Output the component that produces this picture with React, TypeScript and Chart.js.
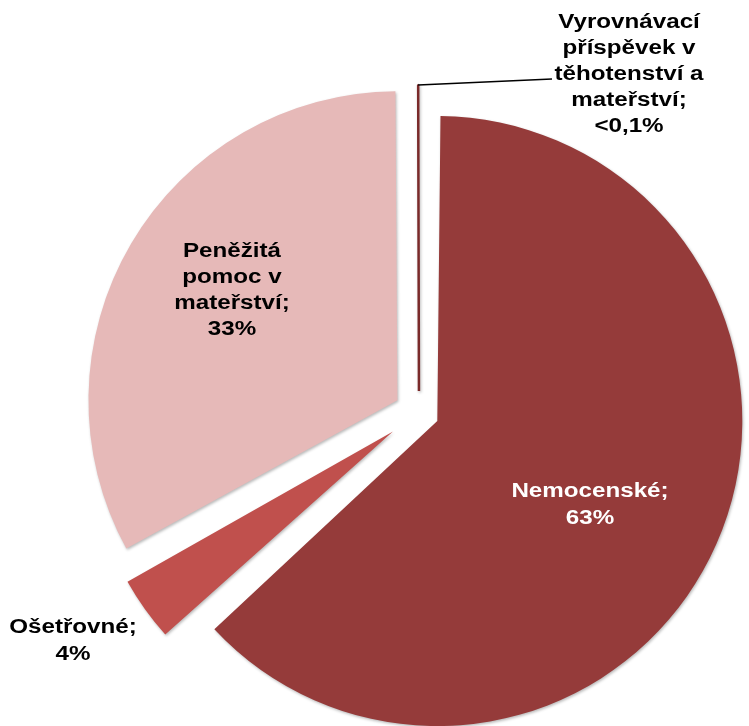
import React, { useEffect, useRef } from "react";
import { Chart, registerables } from "chart.js";

Chart.register(...registerables);

// ---- data ----
const categories = [
  "Nemocenské",
  "Ošetřovné",
  "Peněžitá pomoc v mateřství",
  "Vyrovnávací příspěvek v těhotenství a mateřství",
];
const shares = [63.2, 3.8, 32.9, 0.08];
const labelTexts = ["63%", "4%", "33%", "<0,1%"];

// ---- styles ----
const colors = ["#953B3A", "#C0504D", "#E6B9B8", "#7A2A2A"];
const explode = [20, 32, 25, 22]; // translation in px
const sliceRadius = [305, 305, 309, 306];

const FONT = "bold 19.5px 'Liberation Sans', Arial, sans-serif";
const SX = 1.24;

function drawBlock(ctx: CanvasRenderingContext2D, lines: string[], cx: number, y0: number, lh: number, color: string) {
  ctx.save();
  ctx.font = FONT;
  ctx.fillStyle = color;
  ctx.textAlign = "center";
  ctx.textBaseline = "alphabetic";
  lines.forEach((l, i) => {
    ctx.save();
    ctx.translate(cx, y0 + i * lh);
    ctx.scale(SX, 1);
    ctx.fillText(l, 0, 0);
    ctx.restore();
  });
  ctx.restore();
}

const radiusFix = {
  id: "radiusFix",
  afterDatasetsUpdate(chart: any) {
    const meta = chart.getDatasetMeta(0);
    meta.data.forEach((arc: any, i: number) => {
      const t = explode[i];
      const fix = 1 - Math.sin(Math.min(Math.PI, arc.circumference || 0));
      arc.outerRadius = sliceRadius[i] - t * fix;
    });
  },
};

const shadow = {
  id: "shadow",
  beforeDatasetsDraw(chart: any) {
    const ctx = chart.ctx;
    ctx.save();
    ctx.shadowColor = "rgba(0,0,0,0.28)";
    ctx.shadowBlur = 3;
    ctx.shadowOffsetX = 1;
    ctx.shadowOffsetY = 1.5;
  },
  afterDatasetsDraw(chart: any) {
    chart.ctx.restore();
  },
};

const labels = {
  id: "labelsDraw",
  afterDraw(chart: any) {
    const ctx = chart.ctx as CanvasRenderingContext2D;
    const meta = chart.getDatasetMeta(0);
    const tiny = meta.data[3];
    const mid = (tiny.startAngle + tiny.endAngle) / 2;
    const r = sliceRadius[3];
    const tipX = tiny.x + Math.cos(mid) * (explode[3] + r);
    const tipY = tiny.y + Math.sin(mid) * (explode[3] + r);
    ctx.save();
    ctx.strokeStyle = "#000";
    ctx.lineWidth = 1.5;
    ctx.beginPath();
    ctx.moveTo(tipX, tipY);
    ctx.lineTo(552, 79);
    ctx.stroke();
    ctx.restore();

    drawBlock(ctx, ["Vyrovnávací", "příspěvek v", "těhotenství a", "mateřství;", labelTexts[3]], 629, 28, 26, "#000");
    drawBlock(ctx, ["Nemocenské;", labelTexts[0]], 590, 497, 26.5, "#fff");
    drawBlock(ctx, ["Peněžitá", "pomoc v", "mateřství;", labelTexts[2]], 232, 257, 26, "#000");
    drawBlock(ctx, ["Ošetřovné;", labelTexts[1]], 73, 633, 27, "#000");
  },
};

export default function App() {
  const ref = useRef<HTMLCanvasElement>(null);
  useEffect(() => {
    document.body.style.margin = "0";
    const chart = new Chart(ref.current!, {
      type: "pie",
      data: {
        labels: categories,
        datasets: [
          {
            data: shares,
            backgroundColor: colors,
            borderWidth: [0, 0, 0, 2.5],
            borderColor: colors,
            offset: explode.map((t) => t * 4),
            hoverOffset: 0,
            clip: false,
          } as any,
        ],
      },
      options: {
        responsive: false,
        animation: false,
        radius: 280,
        layout: { padding: { left: 89, top: 100, right: 0, bottom: 0 } },
        plugins: { legend: { display: false }, tooltip: { enabled: false } },
        events: [],
      } as any,
      plugins: [radiusFix, shadow, labels],
    });
    return () => chart.destroy();
  }, []);
  return (
    <div style={{ width: 749, height: 726 }}>
      <canvas ref={ref} width={749} height={726} />
    </div>
  );
}
